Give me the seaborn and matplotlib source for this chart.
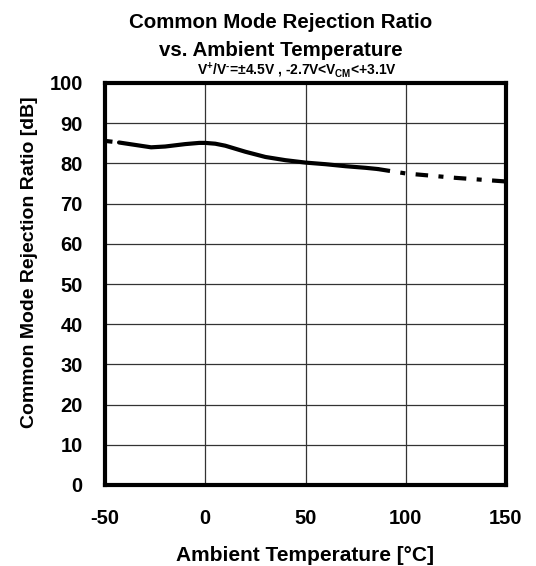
import matplotlib
matplotlib.use("Agg")
import matplotlib.pyplot as plt
import seaborn as sns
import pandas as pd

# Measured CMRR vs. temperature (solid = characterised range)
temp_solid = [-43, -35, -27, -20, -10, -3, 0, 5, 10, 20, 30, 40, 50, 60, 70, 80, 86]
cmrr_solid = [85.2, 84.6, 84.0, 84.2, 84.8, 85.1, 85.1, 84.9, 84.4, 82.9, 81.6, 80.8, 80.2, 79.8, 79.3, 78.9, 78.6]

# Extrapolated portions (dashed)
temp_ext_lo = [-50, -43]
cmrr_ext_lo = [85.6, 85.2]
temp_ext_hi = [86, 100, 125, 150]
cmrr_ext_hi = [78.6, 77.5, 76.4, 75.5]

x_ticks = [-50, 0, 50, 100, 150]
y_ticks = [0, 10, 20, 30, 40, 50, 60, 70, 80, 90, 100]

sns.set_theme(style="white")
plt.rcParams["font.family"] = ["Liberation Sans", "DejaVu Sans"]
plt.rcParams["mathtext.fontset"] = "custom"
plt.rcParams["mathtext.bf"] = "Liberation Sans:bold"
plt.rcParams["mathtext.rm"] = "Liberation Sans:bold"
plt.rcParams["mathtext.default"] = "bf"
for key in ("text.color", "axes.labelcolor", "xtick.color", "ytick.color"):
    plt.rcParams[key] = "black"

fig = plt.figure(figsize=(5.36, 5.66), dpi=100)
ax = fig.add_axes([105 / 536, 81 / 566, 401 / 536, 402 / 566])

df_solid = pd.DataFrame({"T": temp_solid, "CMRR": cmrr_solid})
df_lo = pd.DataFrame({"T": temp_ext_lo, "CMRR": cmrr_ext_lo})
df_hi = pd.DataFrame({"T": temp_ext_hi, "CMRR": cmrr_ext_hi})

sns.lineplot(data=df_solid, x="T", y="CMRR", ax=ax, color="black", lw=3.0, zorder=5)
sns.lineplot(data=df_lo, x="T", y="CMRR", ax=ax, color="black", lw=3.0, zorder=5,
             dashes=False, linestyle=(0, (1.8, 3.2)))
sns.lineplot(data=df_hi, x="T", y="CMRR", ax=ax, color="black", lw=3.0, zorder=5,
             dashes=False, linestyle=(0, (3, 2.5, 1.2, 2.5)))

ax.set_xlim(-50, 150)
ax.set_ylim(0, 100)
ax.set_xticks(x_ticks)
ax.set_yticks(y_ticks)
ax.set_xticklabels([str(t) for t in x_ticks], fontsize=14.5, fontweight="bold")
ax.set_yticklabels([str(t) for t in y_ticks], fontsize=14.5, fontweight="bold")
ax.tick_params(axis="both", length=0, colors="black")
ax.tick_params(axis="y", pad=16)
ax.tick_params(axis="x", pad=17.5)
ax.grid(True, color="#333333", lw=0.9)
for s in ax.spines.values():
    s.set_visible(True)
    s.set_color("black")
    s.set_linewidth(3.0)

ax.set_xlabel("Ambient Temperature [°C]", fontsize=15, fontweight="bold", labelpad=13)
ax.set_ylabel("Common Mode Rejection Ratio [dB]", fontsize=14, fontweight="bold")
ax.yaxis.set_label_coords(-0.167, 0.555)

fig.text(281 / 536, 1 - 22 / 566, "Common Mode Rejection Ratio", ha="center", va="center",
         fontsize=14.8, fontweight="bold")
fig.text(281 / 536, 1 - 51 / 566, "vs. Ambient Temperature", ha="center", va="center",
         fontsize=14.8, fontweight="bold")
fig.text(297 / 536, 1 - 70 / 566, r"V$^{+}$/V$^{\text{-}}$=±4.5V , -2.7V<V$_{CM}$<+3.1V",
         ha="center", va="center", fontsize=10, fontweight="bold")

fig.savefig("out.png", dpi=100)
